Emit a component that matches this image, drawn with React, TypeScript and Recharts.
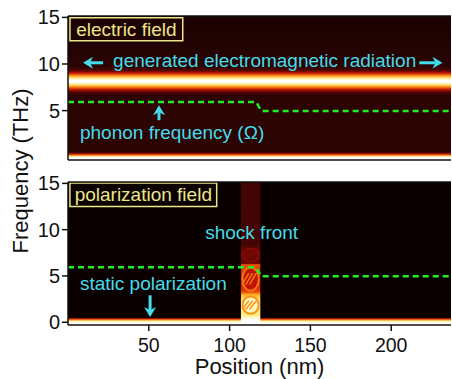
import React from "react";
import { ComposedChart, XAxis, YAxis, Line, ReferenceArea, ReferenceLine, ReferenceDot } from "recharts";

// axes
const X_DOMAIN: [number, number] = [0, 237];
const Y_DOMAIN: [number, number] = [-0.3, 15.15];
const X_TICKS = [50, 100, 150, 200];
const Y_TICKS = [0, 5, 10, 15];

// phonon frequency Ω (green dashed), position nm -> THz
const phononPos = [0, 116.5, 119.5, 237];
const phononFreq = [5.93, 5.93, 4.97, 4.97];

// electric field spectrum, frequency (THz) -> normalised intensity
const efFreq = [15.15, 13, 11, 9.7, 9.4, 9.2, 9.0, 8.8, 8.6, 8.4, 8.25, 8.05, 7.9, 7.7, 7.5, 7.3, 7.1, 6.9, 6.6, 0.55, 0.4, 0.25, 0.12, 0, -0.3];
const efLevel = [0.05, 0.06, 0.08, 0.1, 0.15, 0.25, 0.42, 0.6, 0.78, 0.92, 1, 1, 0.92, 0.78, 0.6, 0.42, 0.25, 0.15, 0.1, 0.1, 0.3, 0.55, 0.8, 1, 1];

// polarization field away from the shock
const pfFreq = [15.15, 0.5, 0.38, 0.22, 0.08, -0.3];
const pfLevel = [0, 0, 0.4, 0.7, 0.95, 1];

// polarization inside the shock front
const shockPos = [107, 119];
const shockFreq = [15.15, 8.3, 8.0, 7.3, 6.6, 6.35, 6.2, 5.9, 4.7, 3.4, 3.15, 3.0, 2.6, 1.8, 1.0, 0.6, 0.3, -0.3];
const shockLevel = [0.14, 0.15, 0.2, 0.24, 0.2, 0.22, 0.55, 0.48, 0.42, 0.48, 0.58, 0.7, 0.8, 0.9, 0.85, 0.9, 1, 1];

// oscillation lobes inside the shock front
const lobeLo = [6.4, 3.25, 0.75];
const lobeHi = [8.1, 6.1, 2.95];
const lobeCore = [0.21, 0.38, 0.93];
const lobeRim = [0.27, 0.6, 0.66];

const CYAN = "#44dcea";
const YELLOW = "#ece68a";
const GREEN = "#22ee22";
const AX = { stroke: "#111", strokeWidth: 1.5 };

const HOT: [number, number[]][] = [
  [0, [10, 0, 0]], [0.1, [45, 4, 4]], [0.25, [120, 8, 4]], [0.4, [200, 22, 6]],
  [0.55, [240, 90, 10]], [0.7, [255, 170, 30]], [0.85, [255, 235, 120]], [1, [255, 255, 255]],
];
function hot(t: number) {
  for (let i = 1; i < HOT.length; i++) {
    if (t <= HOT[i][0]) {
      const [t0, c0] = HOT[i - 1];
      const [t1, c1] = HOT[i];
      const k = (t - t0) / (t1 - t0);
      const c = c0.map((v, j) => Math.round(v + (c1[j] - v) * k));
      return `rgb(${c[0]},${c[1]},${c[2]})`;
    }
  }
  return "rgb(255,255,255)";
}

function grad(id: string, freq: number[], level: number[]) {
  const hi = freq[0];
  const lo = freq[freq.length - 1];
  return (
    <linearGradient id={id} x1="0" y1="0" x2="0" y2="1">
      {freq.map((f, i) => (
        <stop key={i} offset={(hi - f) / (hi - lo)} stopColor={hot(level[i])} />
      ))}
    </linearGradient>
  );
}

const phononRows = phononPos.map((x, i) => ({ x, f: phononFreq[i] }));

const arrowShape = (p: any) => {
  const { x1, y1, x2, y2 } = p;
  const dx = x2 - x1;
  const dy = y2 - y1;
  const len = Math.hypot(dx, dy) || 1;
  const ux = dx / len;
  const uy = dy / len;
  const head = 10;
  const hw = 6;
  const bx = x2 - ux * head;
  const by = y2 - uy * head;
  const nx = bx + ux * 3;
  const ny = by + uy * 3;
  return (
    <g>
      <line x1={x1} y1={y1} x2={nx} y2={ny} stroke={CYAN} strokeWidth={3} />
      <polygon
        points={`${x2},${y2} ${bx - uy * hw},${by + ux * hw} ${nx},${ny} ${bx + uy * hw},${by - ux * hw}`}
        fill={CYAN}
      />
    </g>
  );
};

const lobeShape = (core: string, rim: string) => (p: any) => {
  const { x, y, width, height } = p;
  const cx = x + width / 2;
  const cy = y + height / 2;
  const rx = width / 2 - 1.5;
  const ry = height / 2 - 1.5;
  return (
    <g>
      <ellipse cx={cx} cy={cy} rx={rx} ry={ry} fill={core} stroke={rim} strokeWidth={2} />
      {[-0.45, 0, 0.45].map((o) => (
        <line key={o} x1={cx - rx * 0.55 + o * rx} y1={cy + ry * 0.45} x2={cx + rx * 0.2 + o * rx} y2={cy - ry * 0.45}
          stroke={rim} strokeWidth={1.5} strokeLinecap="round" />
      ))}
    </g>
  );
};

const text = (value: string, fill: string) => ({ value, position: "right" as const, offset: 0, fill, fontSize: 19 });

export default function App() {
  return (
    <div style={{ position: "absolute", left: 0, top: 0, width: 452, height: 379, background: "#fff", fontFamily: "'Liberation Sans', Arial, sans-serif" }}>
      <div style={{ position: "absolute", left: 0, top: 0 }}>
        <ComposedChart width={452} height={166} data={phononRows} margin={{ top: 10, right: 1, bottom: 0, left: 0 }}>
          <defs>{grad("efGrad", efFreq, efLevel)}</defs>
          <XAxis dataKey="x" type="number" domain={X_DOMAIN} ticks={X_TICKS} tick={false} tickSize={6} height={6} axisLine={AX} tickLine={AX} allowDataOverflow />
          <XAxis xAxisId="top" orientation="top" dataKey="x" type="number" domain={X_DOMAIN} ticks={X_TICKS} tick={false} tickSize={6} height={6} axisLine={AX} tickLine={AX} allowDataOverflow />
          <YAxis type="number" domain={Y_DOMAIN} ticks={Y_TICKS} width={68} tickSize={6} tickMargin={2} tick={{ fill: "#111", fontSize: 20 }} axisLine={AX} tickLine={AX} allowDataOverflow />
          <ReferenceArea y1={efFreq[efFreq.length - 1]} y2={efFreq[0]} fill="url(#efGrad)" fillOpacity={1} stroke="none" />
          <ReferenceArea x1={1.2} x2={71} y1={12.5} y2={14.95} fill="none" stroke={YELLOW} strokeWidth={1.5}
            label={{ value: "electric field", position: "center", fill: YELLOW, fontSize: 19 }} />
          <Line dataKey="f" type="linear" stroke={GREEN} strokeWidth={2.5} strokeDasharray="6 4" dot={false} isAnimationActive={false} />
          <ReferenceDot x={27.9} y={10.4} r={0} fill="none" stroke="none" label={text("generated electromagnetic radiation", CYAN)} />
          <ReferenceDot x={7.4} y={2.65} r={0} fill="none" stroke="none" label={text("phonon frequency (\u03a9)", CYAN)} />
          <ReferenceLine segment={[{ x: 21.7, y: 10.13 }, { x: 9.3, y: 10.13 }]} shape={arrowShape} />
          <ReferenceLine segment={[{ x: 217.4, y: 10.13 }, { x: 231.7, y: 10.13 }]} shape={arrowShape} />
          <ReferenceLine segment={[{ x: 56.3, y: 3.97 }, { x: 56.3, y: 5.57 }]} shape={arrowShape} />
        </ComposedChart>
      </div>
      <div style={{ position: "absolute", left: 0, top: 170 }}>
        <ComposedChart width={452} height={209} data={phononRows} margin={{ top: 6, right: 1, bottom: 0, left: 0 }}>
          <defs>
            {grad("pfGrad", pfFreq, pfLevel)}
            {grad("shockGrad", shockFreq, shockLevel)}
          </defs>
          <XAxis dataKey="x" type="number" domain={X_DOMAIN} ticks={X_TICKS} tickSize={6} tickMargin={7} height={54} axisLine={AX} tickLine={AX}
            tick={{ fill: "#111", fontSize: 19.5 }} allowDataOverflow
            label={{ value: "Position (nm)", position: "insideBottom", offset: 5, fill: "#111", fontSize: 22 }} />
          <XAxis xAxisId="top" orientation="top" dataKey="x" type="number" domain={X_DOMAIN} ticks={X_TICKS} tick={false} tickSize={6} height={6} axisLine={AX} tickLine={AX} allowDataOverflow />
          <YAxis type="number" domain={Y_DOMAIN} ticks={Y_TICKS} width={68} tickSize={6} tickMargin={2} tick={{ fill: "#111", fontSize: 20 }} axisLine={AX} tickLine={AX} allowDataOverflow />
          <ReferenceArea y1={pfFreq[pfFreq.length - 1]} y2={pfFreq[0]} fill="url(#pfGrad)" fillOpacity={1} stroke="none" />
          <ReferenceArea x1={shockPos[0]} x2={shockPos[1]} y1={shockFreq[shockFreq.length - 1]} y2={shockFreq[0]} fill="url(#shockGrad)" fillOpacity={1} stroke="none" />
          {lobeLo.map((lo, i) => (
            <ReferenceArea key={i} x1={shockPos[0]} x2={shockPos[1]} y1={lo} y2={lobeHi[i]}
              shape={lobeShape(hot(lobeCore[i]), hot(lobeRim[i]))} />
          ))}
          <ReferenceArea x1={1.2} x2={92} y1={12.5} y2={15.05} fill="none" stroke={YELLOW} strokeWidth={1.5}
            label={{ value: "polarization field", position: "center", fill: YELLOW, fontSize: 19 }} />
          <Line dataKey="f" type="linear" stroke={GREEN} strokeWidth={2.5} strokeDasharray="6 4" dot={false} isAnimationActive={false} />
          <ReferenceDot x={84.9} y={9.75} r={0} fill="none" stroke="none" label={text("shock front", CYAN)} />
          <ReferenceDot x={7.4} y={4.17} r={0} fill="none" stroke="none" label={text("static polarization", CYAN)} />
          <ReferenceLine segment={[{ x: 50.8, y: 2.91 }, { x: 50.8, y: 0.57 }]} shape={arrowShape} />
        </ComposedChart>
      </div>
      <svg width={40} height={379} style={{ position: "absolute", left: 0, top: 0 }}>
        <text x={28} y={171} transform="rotate(-90, 28, 171)" textAnchor="middle" fontSize={22} fill="#111">Frequency (THz)</text>
      </svg>
    </div>
  );
}
